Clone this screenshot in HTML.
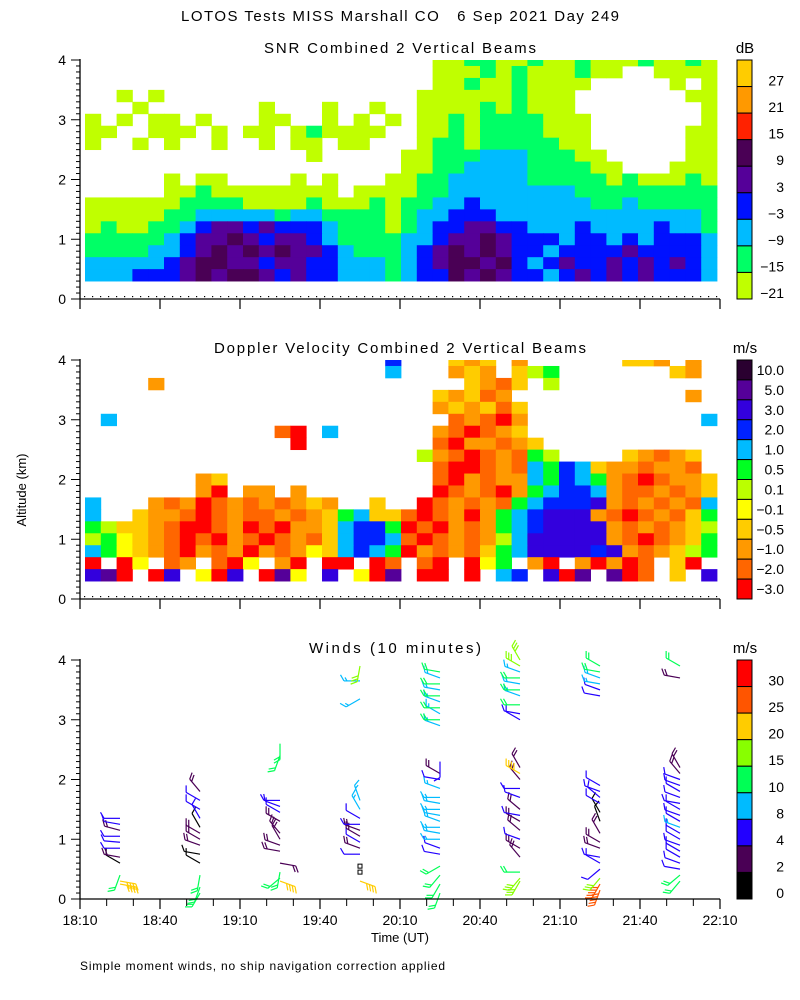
<!DOCTYPE html>
<html><head><meta charset="utf-8"><title>LOTOS Tests MISS Marshall CO</title>
<style>html,body{margin:0;padding:0;background:#fff}svg{display:block}text{font-family:"Liberation Sans",sans-serif;fill:#000}</style></head>
<body>
<svg id="chart" width="800" height="1000" viewBox="0 0 800 1000" xmlns="http://www.w3.org/2000/svg">
<text x="400" y="21" font-size="15" text-anchor="middle" textLength="438" style="white-space:pre">LOTOS Tests MISS Marshall CO   6 Sep 2021 Day 249</text>
<text x="400" y="53" font-size="15" text-anchor="middle" textLength="272">SNR Combined 2 Vertical Beams</text>
<text x="400" y="353" font-size="15" text-anchor="middle" textLength="372">Doppler Velocity Combined 2 Vertical Beams</text>
<text x="395" y="653" font-size="15" text-anchor="middle" textLength="172">Winds (10 minutes)</text>
<text x="745" y="53" font-size="15" text-anchor="middle">dB</text>
<text x="745" y="353" font-size="15" text-anchor="middle">m/s</text>
<text x="745" y="653" font-size="15" text-anchor="middle">m/s</text>
<text transform="translate(26,490) rotate(-90)" font-size="13" text-anchor="middle">Altitude (km)</text>
<text x="400" y="942" font-size="13" text-anchor="middle">Time (UT)</text>
<text x="80" y="970" font-size="12" textLength="365">Simple moment winds, no ship navigation correction applied</text>
<g id="layers"></g>
</svg>
<script>
// ---- data ----
const xTickLabels = ["18:10","18:40","19:10","19:40","20:10","20:40","21:10","21:40","22:10"];
const yTickLabels = ["0","1","2","3","4"];
const snrBarLabels = ["27","21","15","9","3","\u22123","\u22129","\u221215","\u221221"];
const dopBarLabels = ["10.0","5.0","3.0","2.0","1.0","0.5","0.1","\u22120.1","\u22120.5","\u22121.0","\u22122.0","\u22123.0"];
const windBarLabels = ["30","25","20","15","10","8","4","2","0"];
// SNR grid rows from top (3.9 km) to bottom (0.3 km); 0 empty, 1..9 = -21..27 dB class
const snrRows = [
"0000000000"+"0000000000"+"0011221121"+"1211121121",
"0000000000"+"0000000000"+"0011121211"+"1211001111",
"0000000000"+"0000000000"+"0011211211"+"1100000101",
"0010100000"+"0000000000"+"0111111211"+"1000000011",
"0001000000"+"0100010010"+"0111121211"+"1000000001",
"1010110100"+"0110010101"+"0112122221"+"1100000001",
"1100111010"+"1101211110"+"0112122221"+"1100000011",
"1001010010"+"0101101100"+"0122122222"+"1100000011",
"0000000000"+"0000100000"+"1122233322"+"2110000011",
"0000000000"+"0000000000"+"1122333322"+"2211000111",
"0000010110"+"0001010001"+"1223333322"+"2221211121",
"0000011211"+"1111110111"+"1223333333"+"3222222222",
"1111112222"+"1111211121"+"2233433333"+"3322322222",
"1111122333"+"3323322221"+"2334443333"+"3333333332",
"1211223455"+"4544432221"+"2344554433"+"3433334332",
"2222234556"+"5455432222"+"3345565444"+"3443434443",
"2222334565"+"6565543222"+"3456565443"+"4444544443",
"3333345665"+"5455443332"+"3456656434"+"5445454543",
"3334445656"+"6545443332"+"3446565443"+"4545454443"];
// Doppler grid rows top to bottom; a=-3 .. l=10, 0 empty
const dopRows = [
"0000000000"+"000000000i"+"000dcd0c00"+"0000ddc0c0",
"0000000000"+"000000000h"+"000cdc0dfg"+"0000000dc0",
"0000c00000"+"0000000000"+"0000dcbd0f"+"0000000000",
"0000000000"+"0000000000"+"00dcdbc000"+"00000000c0",
"0000000000"+"0000000000"+"00cdcdbd00"+"0000000000",
"0h00000000"+"0000000000"+"000bcbac00"+"000000000h",
"0000000000"+"00ba0h0000"+"00cbabcd00"+"0000000000",
"0000000000"+"000a000000"+"00baccbcd0"+"0000000000",
"0000000000"+"0000000000"+"0fcbabcbgf"+"0000dcbcd0",
"0000000000"+"0000000000"+"00baabcbhg"+"ihdccbccb0",
"0000000cd0"+"0000000000"+"00bacbcchg"+"ihgcbabccd",
"0000000ca0"+"cc0c000000"+"00abcbacgh"+"iihcbbcbcd",
"h000cbcabc"+"bcbcdc00d0"+"0abcbcbghi"+"iijcbcbcbh",
"h00dccbabc"+"bbcbcdghdd"+"babcacghij"+"jjcbabcbdg",
"gfddcbaabc"+"abaccdhiig"+"abacbcghij"+"jjjcbcbcdf",
"fgedcbabac"+"babcbdhiih"+"babcbcfhjj"+"jjjcbabcdg",
"hgedcbacbc"+"acbcedhihg"+"acbcbdghjj"+"jjijcbcdfg",
"a0ae0bc0ba"+"e0ca0aa0ab"+"0ba0aeg0ca"+"0cacab0da0",
"jka0aj0eaj"+"0ake0j0eak"+"0aa0a0hi0j"+"ak0kab0d0j"];
// Wind profiles: time (minutes after 18:10), altitudes (km), direction (deg, staff pointing), speed (m/s)
const windTimes = [15,45,75,105,135,165,195,225];
const windAlt = [
[0.25,0.3,0.4,0.6,0.7,0.85,0.95,1.05,1.15,1.25,1.35],
[0.1,0.2,0.4,0.6,0.75,0.9,1.0,1.1,1.2,1.35,1.5,1.65,1.8],
[0.3,0.35,0.45,0.6,0.8,0.9,1.0,1.1,1.3,1.45,1.55,1.65,2.4,2.6],
[0.3,0.45,0.55,0.75,0.85,0.95,1.05,1.15,1.25,1.35,1.5,1.65,3.35,3.65,3.9],
[0.1,0.25,0.4,0.55,0.75,0.85,1.0,1.1,1.2,1.3,1.4,1.5,1.6,1.7,1.85,2.0,2.1,2.3,2.9,3.0,3.1,3.2,3.3,3.4,3.5,3.6,3.7,3.8],
[0.3,0.35,0.45,0.7,0.85,1.0,1.15,1.3,1.4,1.5,1.7,1.85,2.0,2.1,2.2,3.0,3.1,3.25,3.4,3.5,3.6,3.7,3.8,3.9,4.0],
[0.15,0.25,0.35,0.5,0.6,0.7,0.85,0.95,1.1,1.3,1.45,1.6,1.7,1.8,1.9,3.4,3.5,3.6,3.7,3.8,3.9],
[0.3,0.4,0.5,0.6,0.7,0.8,0.9,1.0,1.1,1.2,1.3,1.4,1.5,1.6,1.7,1.8,1.9,2.0,2.1,2.2,3.7,3.9]];
const windDir = [
[100,100,200,300,280,270,275,270,285,280,270],
[210,200,190,300,280,290,300,300,330,330,300,300,320],
[110,230,190,100,280,290,330,320,300,300,290,270,200,180],
[110,0,0,270,290,300,300,290,270,300,330,340,240,270,190],
[200,210,220,240,280,290,270,280,270,290,280,270,280,270,290,280,300,180,290,270,300,270,290,270,280,270,290,280],
[210,220,270,320,300,290,310,300,280,310,290,270,320,300,330,300,280,270,290,270,280,270,290,300,330],
[200,210,220,230,300,280,290,300,330,340,330,300,310,290,300,280,290,280,290,280,300],
[220,230,280,290,300,300,290,300,300,290,300,290,300,280,290,300,290,290,320,330,280,300]];
const windSpd = [
[20,20,12,1,3,6,6,6,3,6,6],
[12,12,12,1,1,3,3,3,1,6,6,6,3],
[20,10,12,3,3,3,3,3,3,6,6,6,12,12],
[20,0,0,6,3,6,3,3,6,6,8,8,8,8,15],
[12,12,12,12,6,6,9,9,9,9,9,9,9,9,9,6,3,6,9,12,9,12,9,12,9,12,9,12],
[16,16,12,3,3,6,3,3,6,3,6,6,3,20,3,6,6,12,9,12,9,12,9,16,16],
[25,25,16,6,6,6,3,3,3,1,1,6,6,6,6,6,6,9,9,12,12],
[12,12,6,6,6,6,6,6,6,9,6,6,6,6,6,6,6,6,3,3,3,12]];

// ---- styles (not data) ----
const snrColors = ["", "#c0ff00","#00ff66","#00bbff","#0011ff","#550099","#4a0055","#ff2200","#ff9900","#ffcc00"];
const dopColors = {a:"#ff0000",b:"#ff6600",c:"#ff9900",d:"#ffcc00",e:"#ffff00",f:"#bbff00",g:"#00ff22",h:"#00bbff",i:"#0022ff",j:"#3300dd",k:"#550099",l:"#2a0030"};
const snrBarColors = ["#ffcc00","#ff9900","#ff2200","#4a0055","#550099","#0011ff","#00bbff","#00ff66","#c0ff00"];
const dopBarColors = ["#2a0030","#550099","#3300dd","#0022ff","#00bbff","#00ff22","#bbff00","#ffff00","#ffcc00","#ff9900","#ff6600","#ff0000"];
const windBarColors = ["#ff0000","#ff5500","#ffcc00","#88ff00","#00ff55","#00bbff","#2200ff","#4a0055","#000000"];
const windBins = [0,2,4,8,10,15,20,25,30];
const windBinColors = ["#000000","#4a0055","#2200ff","#00bbff","#00ff55","#88ff00","#ffcc00","#ff5500","#ff0000"];

const NS = "http://www.w3.org/2000/svg";
const root = document.getElementById('layers');
function mk(tag, attrs, parent) {
  const e = document.createElementNS(NS, tag);
  for (const k in attrs) e.setAttribute(k, attrs[k]);
  (parent || root).appendChild(e);
  return e;
}
const X0 = 80, X1 = 720, DATA_START = 85, DATA_END = 717;
const xScale = m => X0 + (X1 - X0) * m / 240;
const panelBase = [299, 599, 899];
const KM = 59.75;
const yScale = (p, km) => panelBase[p] - km * KM;

function axes(p, showLabels) {
  const g = mk('g', {});
  
  
  mk('line', {x1: X0, y1: yScale(p, 4) - 1, x2: X0, y2: panelBase[p], stroke: '#000', 'stroke-width': 1.3}, g);
  mk('line', {x1: X0, y1: panelBase[p], x2: X1, y2: panelBase[p], stroke: '#000', 'stroke-width': 1.3}, g);
  for (let i = 0; i <= 40; i++) {
    const y = yScale(p, i * 0.1);
    const len = (i % 10 === 0) ? 9 : 4;
    mk('line', {x1: X0 - len, y1: y, x2: X0, y2: y, stroke: '#000', 'stroke-width': 1}, g);
  }
  yTickLabels.forEach((t, i) => {
    const tx = mk('text', {x: 66, y: yScale(p, +t) + 5, 'font-size': 14, 'text-anchor': 'end'}, g);
    
    
    tx.textContent = t;
  });
  xTickLabels.forEach((t, i) => {
    const x = xScale(i * 30);
    mk('line', {x1: x, y1: panelBase[p], x2: x, y2: panelBase[p] + 10, stroke: '#000', 'stroke-width': 1.2}, g);
    if (showLabels) {
      const tx = mk('text', {x: x, y: panelBase[p] + 26, 'font-size': 14, 'text-anchor': 'middle'}, g);
      
      
      tx.textContent = t;
    }
  });
  if (showLabels) {
    for (let m = 10; m < 240; m += 10) {
      if (m % 30 === 0) continue;
      mk('line', {x1: xScale(m), y1: panelBase[p], x2: xScale(m), y2: panelBase[p] + 7, stroke: '#000', 'stroke-width': 1}, g);
    }
  } else {
    for (let x = 84; x < DATA_END; x += 8) mk('rect', {x: x, y: panelBase[p] - 3, width: 1.2, height: 1.2, fill: '#000'}, g);
  }
}

function heatmap(p, rows, colorFn, name) {
  const g = mk('g', {});
  
  
  const nRows = rows.length;
  const nCols = 40;
  const cw = (DATA_END - DATA_START) / nCols;
  rows.forEach((row, ri) => {
    const r = nRows - 1 - ri; // r=0 bottom
    const a0 = 0.3 + 0.2 * r, a1 = Math.min(4.0, a0 + 0.2);
    for (let c = 0; c < nCols; c++) {
      const ch = row[c] || '0';
      const col = colorFn(ch);
      if (!col) continue;
      const cell = mk('rect', {x: DATA_START + c * cw, y: yScale(p, a1), width: cw + 0.4, height: yScale(p, a0) - yScale(p, a1) + 0.4, fill: col}, g);
      
      
    }
  });
}

function colorbar(p, colors, labels, name) {
  const g = mk('g', {});
  
  
  const top = yScale(p, 4), bot = panelBase[p];
  const h = (bot - top) / colors.length;
  colors.forEach((c, i) => {
    const r = mk('rect', {x: 737, y: top + i * h, width: 15, height: h, fill: c, stroke: '#000', 'stroke-width': 1}, g);
    
    
  });
  labels.forEach((t, i) => {
    const ly = (p === 1) ? top + (i + 0.5) * h + 5 : top + (i + 1) * h - 1;
    const tx = mk('text', {x: 784, y: ly, 'font-size': 14, 'text-anchor': 'end'}, g);
    
    
    tx.textContent = t;
  });
}

function windColor(s) {
  let k = 0;
  for (let i = 0; i < windBins.length; i++) if (s >= windBins[i]) k = i;
  return windBinColors[k];
}

function barbs() {
  const g = mk('g', {});
  
  
  windTimes.forEach((t, pi) => {
    const x = xScale(t);
    windAlt[pi].forEach((alt, j) => {
      const y = yScale(2, alt);
      const s = windSpd[pi][j];
      const col = windColor(s);
      if (s < 1) {
        const b = mk('rect', {x: x - 2, y: y - 2, width: 4, height: 4, fill: 'none', stroke: '#000', 'stroke-width': 1}, g);
        
        
        return;
      }
      const th = windDir[pi][j] * Math.PI / 180;
      const L = 16;
      const ex = x + L * Math.sin(th), ey = y - L * Math.cos(th);
      const bg = mk('g', {stroke: col, 'stroke-width': 1.2, fill: 'none'}, g);
      
      
      mk('line', {x1: x, y1: y, x2: ex, y2: ey}, bg);
      const full = Math.floor(s / 5), half = (s % 5) >= 2.5 ? 1 : 0;
      const n = Math.max(1, full) + half;
      const fth = th + Math.PI / 3;
      for (let k = 0; k < n; k++) {
        const d = L - k * 3;
        const px = x + d * Math.sin(th), py = y - d * Math.cos(th);
        const fl = (k < full || full === 0) ? 7 : 4;
        mk('line', {x1: px, y1: py, x2: px + fl * Math.sin(fth), y2: py - fl * Math.cos(fth)}, bg);
      }
    });
  });
}

heatmap(0, snrRows, ch => snrColors[+ch] || null, 'snr-heatmap');
heatmap(1, dopRows, ch => dopColors[ch] || null, 'doppler-heatmap');
barbs();
axes(0, false); axes(1, false); axes(2, true);
colorbar(0, snrBarColors, snrBarLabels, 'snr-colorbar');
colorbar(1, dopBarColors, dopBarLabels, 'doppler-colorbar');
colorbar(2, windBarColors, windBarLabels, 'winds-colorbar');
</script>
</body></html>
